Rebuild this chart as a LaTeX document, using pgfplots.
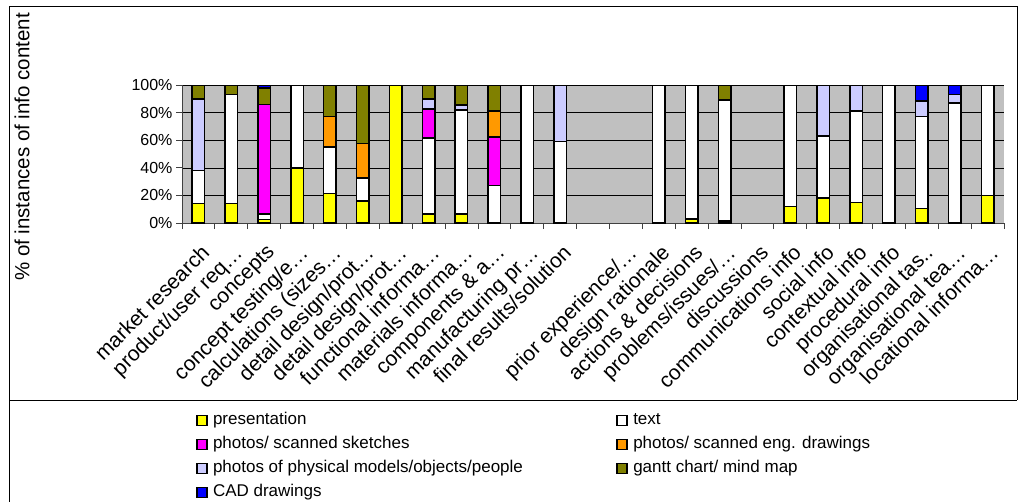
\documentclass[border=0pt]{standalone}
\usepackage{pgfplots}
\pgfplotsset{compat=1.18}
\usepackage{pgfplotstable}
\usepackage{fontspec}
\setmainfont{Liberation Sans}
\definecolor{plotbg}{HTML}{C0C0C0}
\definecolor{cyellow}{HTML}{FFFF00}
\definecolor{cmagenta}{HTML}{FF00FF}
\definecolor{corange}{HTML}{FF9900}
\definecolor{clavender}{HTML}{CCCCFF}
\definecolor{colive}{HTML}{808000}
\definecolor{cblue}{HTML}{0000FF}

% share (%) of each content type per category; columns stack bottom to top
\pgfplotstableread{
x  Y    W    M    O    L    G    B
0  14   24   0    0    52   10   0
1  14   79   0    0    0    7    0
2  2.5  4    79.5 0    0    12   2
3  40   60   0    0    0    0    0
4  21.5 33.5 0    22   0    23   0
5  16   16.5 0    25   0    42.5 0
6  100  0    0    0    0    0    0
7  6.5  55   21   0    7.5  10   0
8  6.5  75.5 0    0    3.5  14.5 0
9  0    27   35.5 18.5 0    19   0
10 0    100  0    0    0    0    0
11 0    59   0    0    41   0    0
12 0    0    0    0    0    0    0
13 0    0    0    0    0    0    0
14 0    100  0    0    0    0    0
15 3    97   0    0    0    0    0
16 1.5  87.5 0    0    0    11   0
17 0    0    0    0    0    0    0
18 12   88   0    0    0    0    0
19 18   45   0    0    37   0    0
20 15   66   0    0    19   0    0
21 0    100  0    0    0    0    0
22 10.5 66.5 0    0    11.5 0    11.5
23 0    87   0    0    6    0    7
24 20   80   0    0    0    0    0
}\datatable

\begin{document}
\begin{tikzpicture}
\path[use as bounding box] (0pt,0pt) rectangle (1019pt,-502pt);
\draw[line width=0.8pt] (9pt,-502pt) -- (9pt,-6pt) -- (1017pt,-6pt) -- (1017pt,-400pt);
\draw[line width=0.8pt] (9pt,-400pt) -- (1017pt,-400pt);
\node[rotate=90, font=\fontsize{20.5}{20.5}\selectfont] at (22pt,-147pt) {\% of instances of info content};

\begin{axis}[
  at={(182pt,-223pt)}, anchor=south west,
  scale only axis, width=822pt, height=138pt,
  xmin=-0.5, xmax=24.5, ymin=0, ymax=100,
  ybar stacked, bar width=12.5pt,
  axis background/.style={fill=plotbg},
  axis x line*=bottom, axis y line*=left,
  axis line style={black!75, line width=0.8pt},
  xtick={0,...,24},
  xticklabels={market research, product/user req…, concepts, concept testing/e…,
    calculations (sizes…, detail design/prot…, detail design/prot…,
    functional informa…, materials informa…, components \& a…,
    manufacturing pr…, final results/solution, {}, prior experience/…,
    design rationale, actions \& decisions, problems/issues/…, discussions,
    communications info, social info, contextual info, procedural info,
    organisational tas.., organisational tea…, locational informa…},
  major x tick style={draw=none},
  minor xtick={-0.5,0.5,...,24.5},
  ytick={0,20,...,100},
  yticklabel={\pgfmathprintnumber{\tick}\%},
  /pgf/number format/assume math mode=true,
  ymajorgrids, grid style={black, line width=0.6pt},
  tick align=outside, tick style={black!75, line width=0.8pt},
  major tick length=6pt, minor tick length=6pt,
  tick label style={font=\fontsize{16}{16}\selectfont},
  xticklabel style={rotate=45, anchor=north east, inner sep=1pt,
    xshift=-8pt, yshift=-10pt, font=\fontsize{21}{21}\selectfont},
  every axis plot/.append style={draw=black, line width=1.5pt},
  legend columns=2,
  legend image code/.code={\draw[#1, line width=1.3pt] (0pt,-5pt) rectangle (10pt,5pt);},
  legend style={at={(0,0)}, anchor=north west, xshift=14pt, yshift=-187pt,
    draw=none, fill=none, inner sep=0pt, row sep=4pt,
    font=\fontsize{17}{17}\selectfont,
    nodes={inner sep=1.5pt, text height=13pt, text depth=4pt},
    /tikz/every odd column/.append style={column sep=4pt},
    /tikz/every even column/.append style={column sep=92pt}},
  legend cell align=left,
]
\addplot[fill=cyellow] table[x=x, y=Y] {\datatable};
\addlegendentry{presentation}
\addplot[fill=white] table[x=x, y=W] {\datatable};
\addlegendentry{text}
\addplot[fill=cmagenta] table[x=x, y=M] {\datatable};
\addlegendentry{photos/ scanned sketches}
\addplot[fill=corange] table[x=x, y=O] {\datatable};
\addlegendentry{photos/ scanned eng. drawings}
\addplot[fill=clavender] table[x=x, y=L] {\datatable};
\addlegendentry{photos of physical models/objects/people}
\addplot[fill=colive] table[x=x, y=G] {\datatable};
\addlegendentry{gantt chart/ mind map}
\addplot[fill=cblue] table[x=x, y=B] {\datatable};
\addlegendentry{CAD drawings}
\end{axis}
\end{tikzpicture}
\end{document}
